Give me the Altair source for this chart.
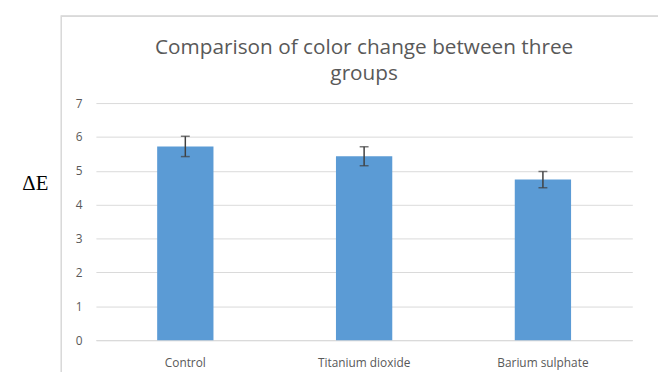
import altair as alt
import pandas as pd

groups = ["Control", "Titanium dioxide", "Barium sulphate"]
means = [5.72, 5.43, 4.74]
sds = [0.30, 0.28, 0.24]
title_lines = ["Comparison of color change between three", "groups"]

df = pd.DataFrame({"group": groups, "mean": means, "sd": sds})
df["lo"] = df["mean"] - df["sd"]
df["hi"] = df["mean"] + df["sd"]
tdf = pd.DataFrame({"t": [title_lines]})

xenc = alt.X("group:N", sort=groups, title=None,
             scale=alt.Scale(paddingInner=0, paddingOuter=0),
             axis=alt.Axis(labelAngle=0, labelPadding=18, ticks=False,
                           domainColor="#d9d9d9", labelColor="#595959",
                           labelFontSize=12, labelFont="Open Sans"))

frame = alt.Chart(df).mark_rect(fill=None, stroke="#d9d9d9", strokeWidth=1.2).encode(
    x=alt.value(-35), x2=alt.value(600), y=alt.value(-88), y2=alt.value(300)
)

title = alt.Chart(tdf).mark_text(
    font="Open Sans", fontSize=21, color="#595959", lineHeight=27,
    align="center", baseline="alphabetic"
).encode(x=alt.value(271.5), y=alt.value(-50), text="t")

bars = alt.Chart(df).mark_bar(color="#5B9BD5", size=57).encode(
    x=xenc,
    y=alt.Y("mean:Q", scale=alt.Scale(domain=[0, 7]),
            title="ΔE",
            axis=alt.Axis(values=list(range(0, 8)), tickCount=8, grid=True,
                          gridColor="#d9d9d9", domain=False, ticks=False,
                          labelPadding=14, labelColor="#595959", labelFontSize=12,
                          labelFont="Open Sans",
                          titleAngle=0, titleFont="Liberation Serif", titleFontSize=21,
                          titleFontWeight="normal", titleColor="#000000",
                          titleX=-75, titleY=91, titleAlign="left"))
)

err = alt.Chart(df).mark_rule(color="#404040", strokeWidth=1.5).encode(
    x=alt.X("group:N", sort=groups), y="lo:Q", y2="hi:Q"
)
cap_hi = alt.Chart(df).mark_tick(color="#404040", thickness=1.5, size=9).encode(
    x=alt.X("group:N", sort=groups), y="hi:Q"
)
cap_lo = alt.Chart(df).mark_tick(color="#404040", thickness=1.5, size=9).encode(
    x=alt.X("group:N", sort=groups), y="lo:Q"
)

chart = alt.layer(frame, title, bars, err, cap_hi, cap_lo).properties(
    width=543, height=240,
    autosize=alt.AutoSizeParams(type="none"),
    padding={"left": 89, "top": 94, "right": 26, "bottom": 30},
).configure_view(stroke=None)

chart.save("out.html", embed_options={"renderer": "svg", "actions": False})
